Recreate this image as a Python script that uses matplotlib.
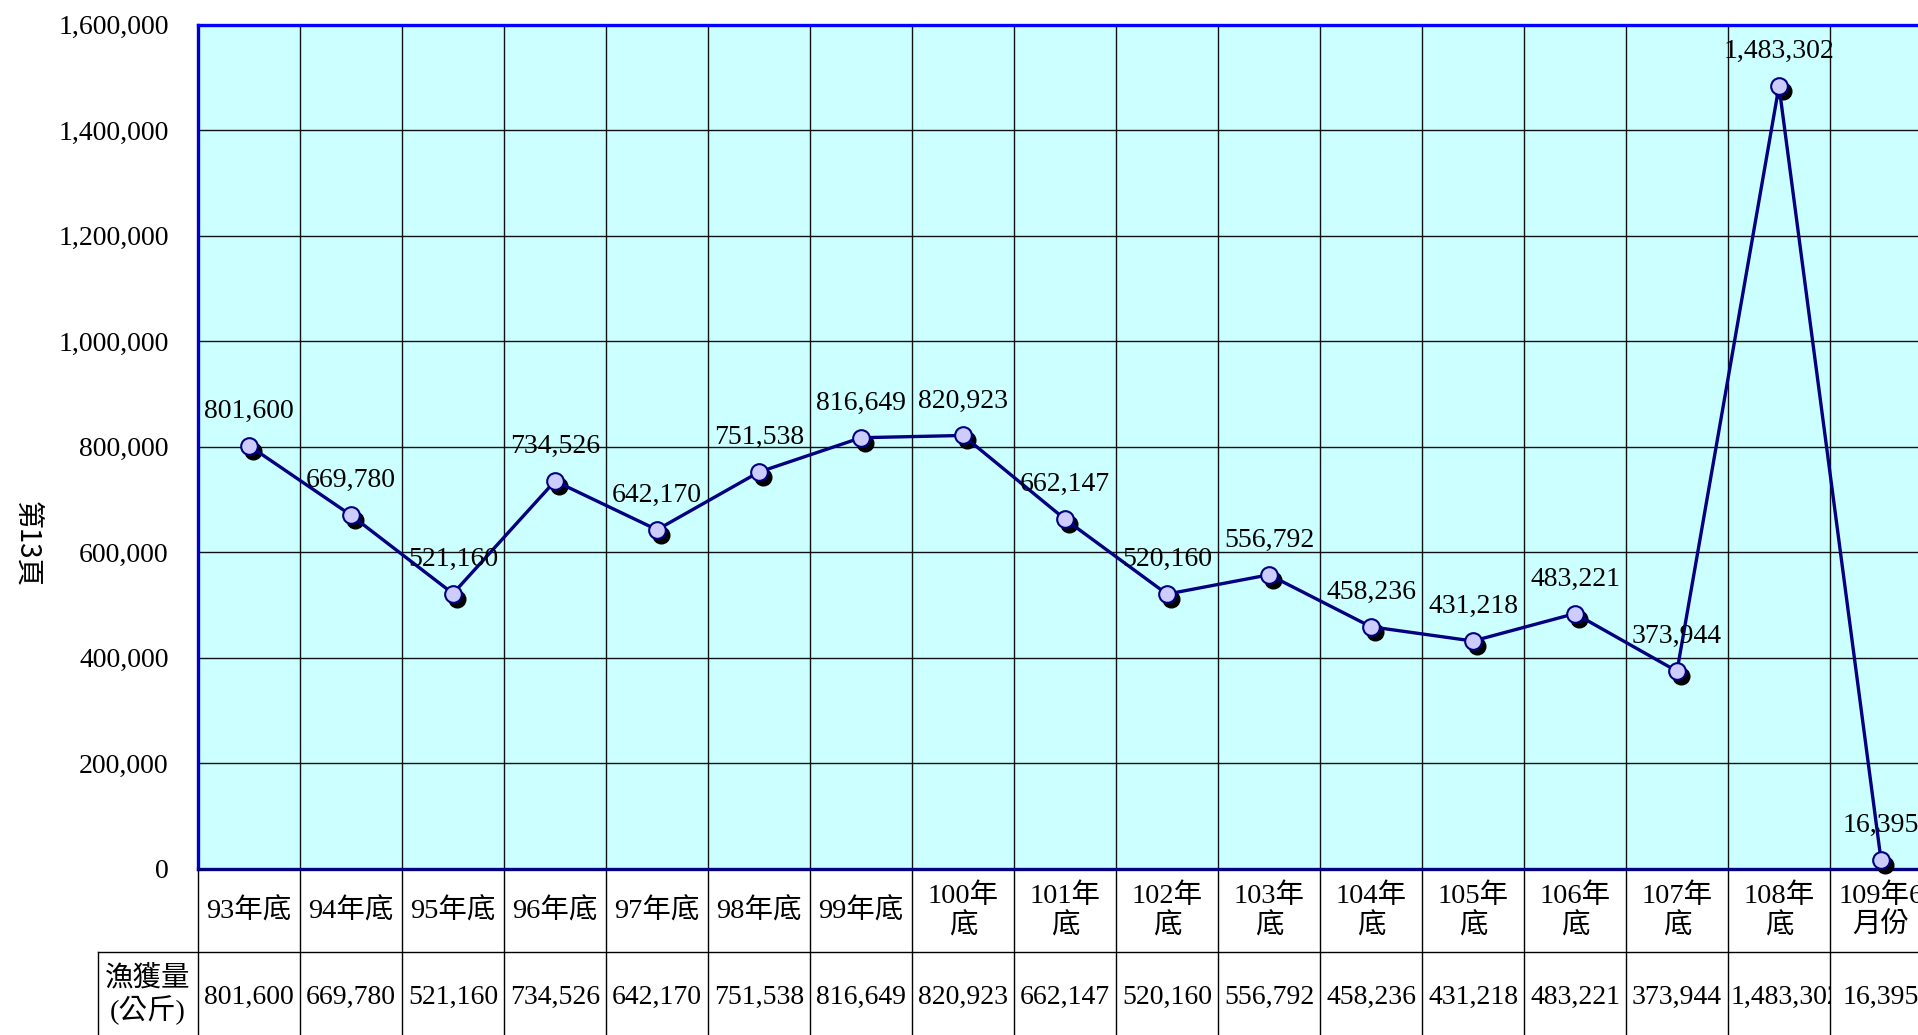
import matplotlib
matplotlib.use("Agg")
import matplotlib.pyplot as plt
import numpy as np
from matplotlib import transforms
from matplotlib.patches import Rectangle
from matplotlib.ticker import FuncFormatter

plt.rcParams["font.family"] = ["Liberation Serif", "Noto Sans CJK TC"]

# data
categories = [
    "93年底", "94年底", "95年底", "96年底", "97年底", "98年底", "99年底",
    "100年\n底", "101年\n底", "102年\n底", "103年\n底", "104年\n底",
    "105年\n底", "106年\n底", "107年\n底", "108年\n底", "109年6\n月份",
]
catch_kg = [
    801600, 669780, 521160, 734526, 642170, 751538, 816649, 820923,
    662147, 520160, 556792, 458236, 431218, 483221, 373944, 1483302, 16395,
]
y_ticks = np.arange(0, 1600001, 200000)
row_label = "漁獲量\n(公斤)"
page_label = "第13頁"

W, H = 1918, 1035
fig = plt.figure(figsize=(W / 100, H / 100), dpi=100)
ax = fig.add_axes([198 / W, (H - 868.5) / H, 1734 / W, 844 / H])
ax.set_facecolor("#CCFFFF")

x = np.arange(len(catch_kg))
ax.set_xlim(-0.5, len(catch_kg) - 0.5)
ax.set_ylim(0, 1600000)

# grid
ax.set_yticks(y_ticks)
ax.set_xticks(np.arange(0.5, len(catch_kg) - 0.5, 1))
ax.grid(True, color="#111111", lw=1)
ax.set_axisbelow(True)
ax.tick_params(axis="x", length=0, labelbottom=False)
ax.tick_params(axis="y", length=0, pad=21, labelsize=20)
ax.yaxis.set_major_formatter(FuncFormatter(lambda v, p: f"{int(v):,}"))

for side, col in [("top", "#0000FF"), ("left", "#0000CC"),
                  ("bottom", "#000080"), ("right", "#0000FF")]:
    ax.spines[side].set_color(col)
    ax.spines[side].set_linewidth(2.4)

# series with shadowed markers
shadow = transforms.offset_copy(ax.transData, fig=fig, x=4, y=-5, units="dots")
ax.plot(x, catch_kg, ls="none", marker="o", ms=12, color="black",
        transform=shadow, zorder=3, clip_on=False)
ax.plot(x, catch_kg, color="#000080", lw=2.4, marker="o", ms=12,
        mfc="#CCCCFF", mec="#000080", mew=1.5, zorder=4, clip_on=False)

for xi, v in zip(x, catch_kg):
    ax.annotate(f"{v:,}", (xi, v), xytext=(0, 28), textcoords="offset pixels",
                ha="center", va="baseline", fontsize=20, zorder=5)

# data table under the axis
tr = ax.get_xaxis_transform()
row1 = -(952 - 868.5) / 844
row2 = -0.21
label_left = -0.5 - 100 / 102
for b in np.arange(-0.5, len(catch_kg) + 0.5, 1):
    ax.plot([b, b], [0, row2], transform=tr, clip_on=False, color="black", lw=1)
ax.plot([label_left, len(catch_kg) - 0.5], [row1, row1], transform=tr,
        clip_on=False, color="black", lw=1)
ax.plot([label_left, label_left], [row1, row2], transform=tr,
        clip_on=False, color="black", lw=1)

for xi, cat, v in zip(x, categories, catch_kg):
    ax.text(xi, -(911 - 868.5) / 844, cat, transform=tr, ha="center",
            va="center", fontsize=20.5, linespacing=1.2, clip_on=False)
    s = f"{v:,}"
    if len(s) > 7:
        t = ax.text(xi - 0.47, -(997 - 868.5) / 844, s, transform=tr,
                    ha="left", va="center", fontsize=20, clip_on=True)
    else:
        t = ax.text(xi, -(997 - 868.5) / 844, s, transform=tr,
                    ha="center", va="center", fontsize=20, clip_on=True)
    t.set_clip_path(Rectangle((xi - 0.5, row2), 1, row1 - row2, transform=tr))

ax.text((label_left - 0.5) / 2, -(995 - 868.5) / 844, row_label, transform=tr,
        ha="center", va="center", fontsize=20.5, linespacing=1.15)

fig.text(27 / W, 1 - 544 / H, page_label, rotation=-90, ha="center",
         va="center", fontsize=20, family=["Noto Sans CJK TC", "DejaVu Sans"])

fig.savefig("out.png", dpi=100)
